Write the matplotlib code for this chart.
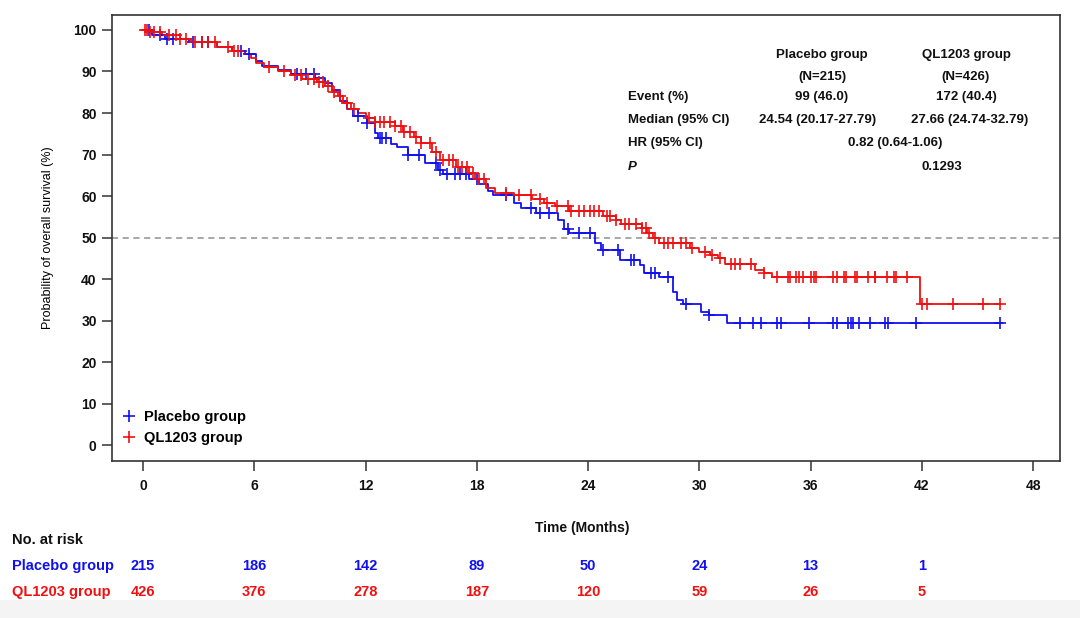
import numpy as np
import matplotlib
matplotlib.use("Agg")
import matplotlib.pyplot as plt
from matplotlib.transforms import blended_transform_factory
from matplotlib.lines import Line2D
from matplotlib.patches import Rectangle

plt.rcParams['font.family'] = ['Liberation Sans', 'DejaVu Sans']

BLUE = '#1010f0'
RED = '#f01010'

# Kaplan-Meier steps (time in months, survival in %)
placebo_t = [0, 0.5, 1.2, 2.5, 4.0, 4.8, 5.5, 6.1, 6.4, 7.3, 8.0, 9.3, 9.8, 10.2, 10.6,
             11.0, 11.3, 12.1, 12.5, 12.7, 13.4, 13.7, 14.3, 15.2, 15.9, 16.2, 17.6, 18.1,
             18.6, 18.9, 20.0, 20.4, 21.2, 22.4, 22.7, 23.0, 24.4, 24.7, 25.7, 26.8, 27.0,
             27.8, 28.6, 28.8, 29.1, 30.1, 30.5, 31.5, 46.3]
placebo_s = [100, 98.8, 97.8, 97.0, 96.0, 95.0, 94.3, 92.5, 91.3, 90.4, 89.5, 88.5, 87.2, 85.5, 83.0,
             81.0, 79.2, 77.6, 75.2, 74.0, 72.5, 71.9, 70.0, 68.0, 66.3, 65.2, 64.0, 63.0,
             61.2, 60.2, 58.4, 57.2, 56.0, 54.3, 52.0, 51.2, 48.8, 46.9, 44.7, 43.3, 41.5,
             40.4, 37.0, 35.0, 33.9, 32.2, 31.3, 29.4, 29.4]
placebo_cens = [0.3, 0.9, 1.3, 1.6, 2.7, 3.2, 3.5, 5.3, 5.7, 8.3, 8.8, 9.2, 11.6, 12.1, 12.8,
                12.9, 13.1, 14.3, 14.9, 15.8, 16.0, 16.4, 16.8, 17.1, 17.4, 18.0, 19.6, 20.9,
                21.4, 21.9, 22.9, 23.5, 24.1, 24.8, 25.6, 26.3, 26.5, 27.4, 27.6, 28.3, 29.3,
                30.5, 32.2, 32.9, 33.3, 34.2, 34.4, 35.9, 37.2, 37.4, 38.0, 38.2, 38.3, 38.6,
                39.2, 40.0, 40.2, 41.7, 46.2]

ql_t = [0, 0.3, 1.0, 2.0, 2.6, 4.0, 4.8, 5.5, 5.8, 6.1, 6.5, 7.3, 8.0, 8.6, 9.4, 9.8, 10.2,
        10.5, 10.8, 11.2, 11.6, 12.0, 12.5, 13.6, 14.0, 14.6, 15.0, 15.6, 16.0, 16.9, 17.6,
        17.9, 18.5, 19.0, 20.0, 21.0, 21.6, 22.2, 23.0, 24.8, 25.5, 25.8, 26.9, 27.2, 27.5,
        27.8, 29.5, 30.0, 30.6, 31.0, 31.4, 33.0, 33.5, 33.9, 41.9, 46.2]
ql_s = [100, 99.5, 98.8, 97.9, 97.0, 96.0, 95.0, 94.2, 93.2, 92.0, 91.0, 90.2, 89.2, 88.3, 87.5,
        86.5, 85.0, 84.0, 82.5, 81.0, 80.0, 78.8, 77.8, 76.8, 75.5, 74.3, 72.8, 70.5, 68.6,
        67.0, 65.5, 64.2, 62.0, 60.8, 60.3, 59.2, 58.4, 57.5, 56.5, 55.2, 54.2, 53.3, 52.2,
        51.0, 49.8, 48.6, 47.5, 46.6, 45.8, 45.0, 43.6, 42.3, 41.5, 40.5, 33.9, 33.9]
ql_cens = [0.1, 0.2, 0.4, 0.6, 0.9, 1.4, 1.8, 2.0, 2.3, 2.8, 3.2, 3.5, 3.9, 4.6, 4.9, 5.1,
           6.8, 7.6, 8.2, 8.5, 8.9, 9.2, 9.5, 9.7, 10.0, 10.3, 10.6, 11.0, 11.4, 12.2, 12.5,
           12.8, 13.0, 13.3, 13.6, 13.9, 14.1, 14.4, 14.7, 15.0, 15.5, 15.8, 16.2, 16.5, 16.7,
           17.0, 17.2, 17.5, 17.8, 18.1, 18.4, 19.6, 20.3, 20.9, 21.4, 21.8, 22.3, 22.9, 23.1,
           23.5, 23.8, 24.1, 24.3, 24.6, 25.0, 25.2, 25.5, 26.0, 26.2, 26.6, 26.9, 27.1, 27.3,
           27.6, 28.1, 28.3, 28.6, 29.0, 29.3, 29.6, 30.3, 30.7, 31.1, 31.7, 31.9, 32.2, 32.8,
           33.5, 34.2, 34.8, 34.9, 35.2, 35.4, 35.6, 36.0, 36.2, 36.3, 37.2, 37.4, 37.8, 37.9,
           38.4, 38.5, 39.1, 39.5, 39.5, 40.1, 40.5, 40.6, 41.2, 42.0, 42.3, 43.7, 45.3, 46.2]

groups = ['Placebo group', 'QL1203 group']
risk_times = [0, 6, 12, 18, 24, 30, 36, 42]
risk_placebo = [215, 186, 142, 89, 50, 24, 13, 1]
risk_ql = [426, 376, 278, 187, 120, 59, 26, 5]
x_ticks = [0, 6, 12, 18, 24, 30, 36, 42, 48]
y_ticks = [0, 10, 20, 30, 40, 50, 60, 70, 80, 90, 100]


def surv_at(ts, ss, c):
    i = np.searchsorted(ts, c, side='right') - 1
    return np.asarray(ss)[i]


fig = plt.figure(figsize=(10.8, 6.18), dpi=100)
fig.patches.append(Rectangle((0, 0), 1, 18 / 618, transform=fig.transFigure,
                             facecolor='#f4f4f4', edgecolor='none', zorder=0))
ax = fig.add_axes([112 / 1080, 1 - 461 / 618, (1060 - 112) / 1080, (461 - 15) / 618])

ax.axhline(50, color='#909090', lw=1.1, ls=(0, (4, 3)), zorder=1)

for ts, ss, cens, col in [(placebo_t, placebo_s, placebo_cens, BLUE),
                          (ql_t, ql_s, ql_cens, RED)]:
    ax.step(ts, ss, where='post', color=col, lw=1.3, zorder=3)
    cs = np.array(cens)
    ax.plot(cs, surv_at(ts, ss, cs), ls='none', marker='+', ms=8, mew=1.2,
            color=col, zorder=4)

ax.set_xlim(-1.67, 49.45)
ax.set_ylim(-3.8, 103.6)
ax.set_xticks(x_ticks)
ax.set_yticks(y_ticks)
ax.tick_params(axis='both', direction='out', length=7, width=1.1, color='#333333',
               labelsize=10)
ax.tick_params(axis='x', pad=6)
ax.tick_params(axis='y', pad=4)
for lab in ax.get_xticklabels() + ax.get_yticklabels():
    lab.set_fontweight('bold')
    lab.set_color('#111111')
for sp in ax.spines.values():
    sp.set_color('#333333')
    sp.set_linewidth(1.2)
ax.set_ylabel('Probability of overall survival (%)', fontsize=9, labelpad=14)

handles = [Line2D([], [], ls='none', marker='+', ms=8, mew=1.2, color=BLUE),
           Line2D([], [], ls='none', marker='+', ms=8, mew=1.2, color=RED)]
leg = ax.legend(handles, groups, loc='lower left', bbox_to_anchor=(-0.005, 0.0),
                frameon=False, handlelength=0.8, handletextpad=0.6, borderaxespad=0.7,
                labelspacing=0.45, prop={'weight': 'bold', 'size': 10.5})

# statistics table
def ftxt(x, y, s, **kw):
    kw.setdefault('fontsize', 9.5)
    kw.setdefault('fontweight', 'bold')
    fig.text(x / 1080, 1 - y / 618, s, va='center', color='#111111', **kw)

ftxt(822, 55, 'Placebo group', ha='center')
ftxt(966, 55, 'QL1203 group', ha='center')
ftxt(822, 77, '(N=215)', ha='center')
ftxt(966, 77, '(N=426)', ha='center')
ftxt(628, 97, 'Event (%)', ha='left')
ftxt(822, 97, '99 (46.0)', ha='center')
ftxt(966, 97, '172 (40.4)', ha='center')
ftxt(628, 120, 'Median (95% CI)', ha='left')
ftxt(818, 120, '24.54 (20.17-27.79)', ha='center')
ftxt(970, 120, '27.66 (24.74-32.79)', ha='center')
ftxt(628, 143, 'HR (95% CI)', ha='left')
ftxt(895, 143, '0.82 (0.64-1.06)', ha='center')
ftxt(628, 167, 'P', ha='left', fontstyle='italic')
ftxt(942, 167, '0.1293', ha='center')

ftxt(582, 528, 'Time (Months)', ha='center', fontsize=10)

# number at risk
ftxt(12, 540, 'No. at risk', ha='left', fontsize=10.5)
tr = blended_transform_factory(ax.transData, fig.transFigure)
for yy, name, vals, col in [(566, groups[0], risk_placebo, BLUE),
                            (592, groups[1], risk_ql, RED)]:
    fig.text(12 / 1080, 1 - yy / 618, name, ha='left', va='center', color=col,
             fontsize=10.5, fontweight='bold')
    for t, v in zip(risk_times, vals):
        ax.text(t, 1 - yy / 618, str(v), transform=tr, ha='center', va='center',
                color=col, fontsize=10.5, fontweight='bold', clip_on=False)

fig.savefig('out.png', dpi=100)
